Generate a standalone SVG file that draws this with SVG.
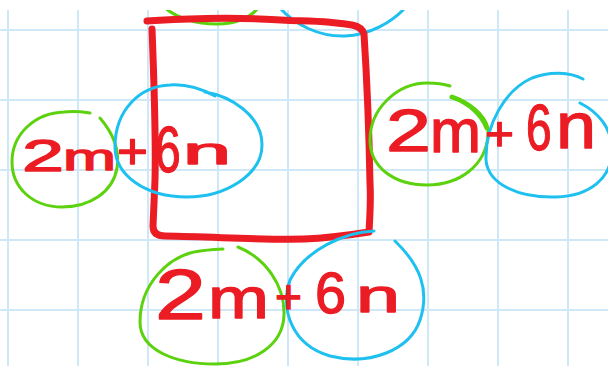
<svg xmlns="http://www.w3.org/2000/svg" width="608" height="366" viewBox="0 0 608 366">
<style>
.grid line{stroke:#cfe8f8;stroke-width:2}
.g{fill:none;stroke:#5cd20e;stroke-width:3;stroke-linecap:round}
.b{fill:none;stroke:#1ec0f0;stroke-width:3;stroke-linecap:round}
.r{fill:none;stroke:#ec1c24;stroke-width:7;stroke-linecap:round;stroke-linejoin:round}
.t{font-family:"Liberation Sans",Arial,sans-serif;fill:#ec1c24;stroke:#ec1c24;stroke-width:1.3;stroke-linejoin:round}
</style>
<rect width="608" height="366" fill="#ffffff"/>
<g class="grid">
<line x1="8" y1="0" x2="8" y2="366"/>
<line x1="78" y1="0" x2="78" y2="366"/>
<line x1="148" y1="0" x2="148" y2="366"/>
<line x1="218" y1="0" x2="218" y2="366"/>
<line x1="288" y1="0" x2="288" y2="366"/>
<line x1="358" y1="0" x2="358" y2="366"/>
<line x1="428" y1="0" x2="428" y2="366"/>
<line x1="498" y1="0" x2="498" y2="366"/>
<line x1="568" y1="0" x2="568" y2="366"/>
<line x1="0" y1="30" x2="608" y2="30"/>
<line x1="0" y1="100" x2="608" y2="100"/>
<line x1="0" y1="170" x2="608" y2="170"/>
<line x1="0" y1="240" x2="608" y2="240"/>
<line x1="0" y1="310" x2="608" y2="310"/>
</g>
<g id="top-expr">
<path class="g" d="M165,8 C180,20 200,24 217,24 C235,24 250,18 258,8"/>
<path class="b" d="M280,8 C295,25 320,37 345,36 C370,35 392,22 405,8"/>
</g>
<g id="square">
<path class="r" d="M152,29 C154,80 156,140 155,180 L153,226 Q153,236 165,236 C220,237 260,240 304,239 C330,238 350,235 369,232 C370,215 371,200 370,183 C369,130 367,80 364,34 Q362,27 352,25 C330,22 320,21 290,20.5 C250,18 220,18 207,18.5 C180,19 160,20 147,21"/>
</g>
<g id="left-expr">
<path class="g" d="M100,118 C112,132 120,150 117,168 C113,192 90,207 62,207 C33,207 12,188 12,162 C12,133 36,113 64,112 C74,111 83,112 90,113"/>
<path class="b" d="M205,92 C230,96 262,115 262,145 C262,175 225,197 187,197 C145,197 115,175 115,147 C115,110 140,86 170,85 C185,84 200,88 215,96"/>
<text class="t" x="22" y="171" font-size="44" textLength="42" lengthAdjust="spacingAndGlyphs">2</text>
<text class="t" x="63" y="170" font-size="36" textLength="53" lengthAdjust="spacingAndGlyphs">m</text>
<text class="t" x="117" y="168" font-size="50" textLength="31" lengthAdjust="spacingAndGlyphs">+</text>
<text class="t" transform="translate(155,172) scale(0.72,1)" font-size="64">6</text>
<text class="t" x="183" y="164" font-size="36" textLength="48" lengthAdjust="spacingAndGlyphs">n</text>
</g>
<g id="right-expr">
<path class="g" d="M452,97 C475,105 490,120 488,135 C486,165 460,185 427,185 C395,185 370,168 370,140 C370,108 398,83 427,83 C436,83 444,84 450,86"/>
<path class="g" style="stroke-width:5" d="M452,97 C470,103 482,115 487,128"/>
<path class="b" d="M583,79 C570,72 550,71 532,78 C505,90 485,125 486,160 C488,185 520,198 556,197 C590,196 612,178 612,150 C612,128 598,112 580,103"/>
<text class="t" x="386" y="151" font-size="60" textLength="45" lengthAdjust="spacingAndGlyphs">2</text>
<text class="t" x="430" y="152" font-size="62" textLength="51" lengthAdjust="spacingAndGlyphs">m</text>
<text class="t" x="485" y="150" font-size="48" textLength="29" lengthAdjust="spacingAndGlyphs">+</text>
<text class="t" transform="translate(526,150) scale(0.72,1)" font-size="64">6</text>
<text class="t" x="556" y="148" font-size="64" textLength="40" lengthAdjust="spacingAndGlyphs">n</text>
</g>
<g id="bottom-expr">
<path class="g" d="M238,247 C265,258 285,285 284,315 C283,345 255,364 215,364 C175,364 140,350 140,322 C140,285 168,255 200,251 C208,250 216,249 223,249"/>
<path class="b" d="M374,231 C345,232 305,250 290,280 C280,310 292,345 330,356 C370,366 410,350 420,320 C430,290 420,265 395,241"/>
<text class="t" x="155" y="319" font-size="70" textLength="51" lengthAdjust="spacingAndGlyphs">2</text>
<text class="t" x="208" y="318" font-size="58" textLength="61" lengthAdjust="spacingAndGlyphs">m</text>
<text class="t" x="275" y="313" font-size="48" textLength="27" lengthAdjust="spacingAndGlyphs">+</text>
<text class="t" x="315" y="313" font-size="58" textLength="31" lengthAdjust="spacingAndGlyphs">6</text>
<text class="t" x="356" y="312" font-size="46" textLength="44" lengthAdjust="spacingAndGlyphs">n</text>
</g>
<rect x="0" y="0" width="608" height="10" fill="#ffffff"/>
</svg>
